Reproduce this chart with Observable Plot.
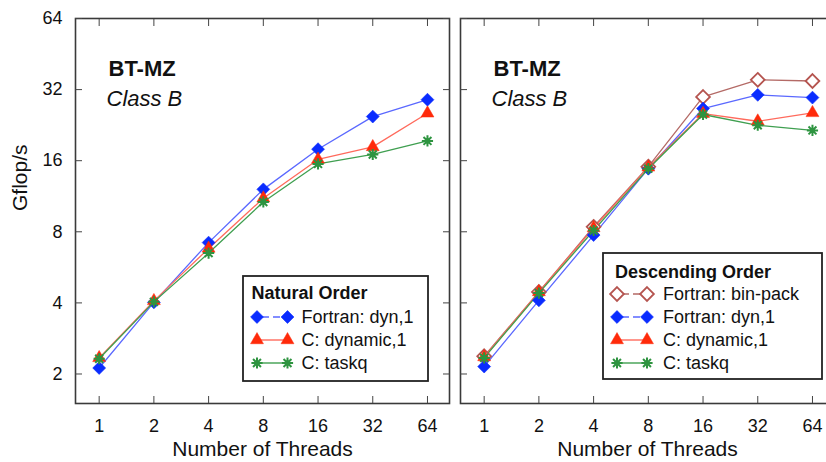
<!DOCTYPE html>
<html><head><meta charset="utf-8">
<script src="https://cdn.jsdelivr.net/npm/d3@7"></script>
<script src="https://cdn.jsdelivr.net/npm/@observablehq/plot@0.6"></script>
<style>
body{margin:0;background:#fff;}
#wrap{position:relative;width:826px;height:462px;overflow:hidden;background:#fff;font-family:"Liberation Sans",Arial,Helvetica,sans-serif;}
#left{position:absolute;left:0;top:0;width:455px;height:462px;}
#right{position:absolute;left:455px;top:0;width:379px;height:462px;}
#legend{position:absolute;left:0;top:0;pointer-events:none;}
</style></head><body>
<div id="wrap"><div id="left"></div><div id="right"></div><svg id="legend" width="826" height="462"></svg></div>
<script>
// ---- data ----
const threads = [1, 2, 4, 8, 16, 32, 64];
const yTicks = [2, 4, 8, 16, 32, 64];

// Natural order panel
const natFortranDyn = [2.12, 4.02, 7.2, 12.1, 17.9, 24.6, 29.0];
const natCDynamic   = [2.34, 4.08, 6.8, 11.1, 16.2, 18.3, 25.4];
const natCTaskq     = [2.32, 4.04, 6.5, 10.7, 15.5, 17.0, 19.4];

// Descending order panel
const descFortranBinpack = [2.38, 4.45, 8.4, 15.1, 29.8, 35.2, 34.8];
const descFortranDyn     = [2.15, 4.1, 7.75, 14.8, 26.6, 30.4, 29.6];
const descCDynamic       = [2.36, 4.45, 8.3, 15.0, 25.3, 23.5, 25.5];
const descCTaskq         = [2.34, 4.4, 8.1, 14.8, 25.1, 22.6, 21.5];

const leftLegendTitle = "Natural Order";
const rightLegendTitle = "Descending Order";
const panelTitle = "BT-MZ";
const panelSubtitle = "Class B";
const xLabel = "Number of Threads";
const yLabel = "Gflop/s";

// ---- styles ----
const FONT = '"Liberation Sans", Arial, Helvetica, sans-serif';
const star8 = {draw(ctx, size) {
  const r = Math.sqrt(size / Math.PI);
  for (let i = 0; i < 4; i++) {
    const a = i * Math.PI / 4, dx = r * Math.cos(a), dy = r * Math.sin(a);
    ctx.moveTo(-dx, -dy); ctx.lineTo(dx, dy);
  }
}};
const STY = {
  binpack: {line: "#b46a66", symbol: "diamond2", r: 6.2, fill: "#fff", stroke: "#b5544f", sw: 1.8, dash: true},
  fdyn:    {line: "#5a68ff", symbol: "diamond2", r: 5.8, fill: "#0a2cff", stroke: "#0a2cff", sw: 0.6, dash: true},
  cdyn:    {line: "#ff6a5c", symbol: "triangle", r: 4.8, fill: "#ff2a0a", stroke: "#ff2a0a", sw: 0.5, dash: false},
  taskq:   {line: "#3f9f50", symbol: star8, r: 5.6, fill: "none", stroke: "#2e9440", sw: 2, dash: false, core: true}
};

function rows(vals) { return threads.map((t, i) => ({t, v: vals[i]})); }

function makePanel(series, showY, opts) {
  const marks = [
    Plot.frame({stroke: "#3a3a3a", strokeWidth: 1.6}),
    Plot.axisX(threads, {anchor: "bottom", tickSize: -7, tickPadding: 22.5, tickFormat: d => String(d), fontSize: 18, label: null, stroke: "#444", fill: "#111"}),
    Plot.axisX(threads, {anchor: "top", tickSize: -7, fill: "none", label: null, stroke: "#444"}),
    Plot.axisY(yTicks, {anchor: "left", tickSize: -7, tickPadding: 20, tickFormat: d => String(d), fontSize: 18, fill: showY ? "#111" : "none", label: null, stroke: "#444"}),
    Plot.axisY(yTicks, {anchor: "right", tickSize: -7, fill: "none", label: null, stroke: "#444"}),
    Plot.text([xLabel], {frameAnchor: "bottom", dy: 52, fontSize: 21, fill: "#111"}),
    Plot.text([panelTitle], {frameAnchor: "top-left", dx: 33, dy: 42, textAnchor: "start", fontSize: 22, fontWeight: "bold", fill: "#111"}),
    Plot.text([panelSubtitle], {frameAnchor: "top-left", dx: 31, dy: 72, textAnchor: "start", fontSize: 22, fontStyle: "italic", fill: "#111"})
  ];
  if (showY) marks.push(Plot.text([yLabel], {frameAnchor: "left", dx: -55, rotate: -90, fontSize: 21, fill: "#111"}));
  for (const s of series) {
    marks.push(Plot.line(rows(s.vals), {x: "t", y: "v", stroke: s.st.line, strokeWidth: 1.3}));
  }
  for (const s of series) {
    const st = s.st;
    marks.push(Plot.dot(rows(s.vals), {x: "t", y: "v", symbol: st.symbol, r: st.r, fill: st.fill, stroke: st.stroke, strokeWidth: st.sw}));
    if (st.core) marks.push(Plot.dot(rows(s.vals), {x: "t", y: "v", r: 2.6, fill: st.stroke, stroke: "none"}));
  }
  return Plot.plot({
    width: opts.width, height: 462,
    marginTop: 18, marginBottom: 59, marginLeft: opts.ml, marginRight: opts.mr,
    style: {background: "transparent", fontFamily: FONT, color: "#111", maxWidth: "none", overflow: "visible"},
    x: {type: "log", base: 2, domain: [0.741, 84.6]},
    y: {type: "log", base: 2, domain: [1.5, 64]},
    marks
  });
}

const leftSeries = [
  {name: "Fortran: dyn,1", vals: natFortranDyn, st: STY.fdyn},
  {name: "C: dynamic,1", vals: natCDynamic, st: STY.cdyn},
  {name: "C: taskq", vals: natCTaskq, st: STY.taskq}
];
const rightSeries = [
  {name: "Fortran: bin-pack", vals: descFortranBinpack, st: STY.binpack},
  {name: "Fortran: dyn,1", vals: descFortranDyn, st: STY.fdyn},
  {name: "C: dynamic,1", vals: descCDynamic, st: STY.cdyn},
  {name: "C: taskq", vals: descCTaskq, st: STY.taskq}
];

document.getElementById("left").append(makePanel(leftSeries, true, {width: 455, ml: 75, mr: 6}));
document.getElementById("right").append(makePanel(rightSeries, false, {width: 379, ml: 5, mr: 0}));

// ---- legends ----
const svg = d3.select("#legend");
function legend(box, title, series, titleX, titleY, ys, x1, x2, xt) {
  const g = svg.append("g").attr("font-family", FONT).attr("font-size", 18).attr("fill", "#111");
  g.append("rect").attr("x", box[0]).attr("y", box[1]).attr("width", box[2]).attr("height", box[3])
    .attr("fill", "#fff").attr("stroke", "#222").attr("stroke-width", 1.8);
  g.append("text").attr("x", titleX).attr("y", titleY).attr("dy", "0.35em").attr("font-weight", "bold").text(title);
  series.forEach((s, i) => {
    const y = ys[i], st = s.st;
    g.append("line").attr("x1", x1).attr("x2", x2).attr("y1", y).attr("y2", y)
      .attr("stroke", st.line).attr("stroke-width", 1.4).attr("stroke-dasharray", st.dash ? "7,4" : null)
      .attr("stroke-dashoffset", st.dash ? -5 : null);
    const type = typeof st.symbol === "string" ? (st.symbol === "diamond2" ? d3.symbolDiamond2 : d3.symbolTriangle) : st.symbol;
    const path = d3.symbol().type(type).size(Math.PI * st.r * st.r)();
    for (const x of [x1, x2]) {
      g.append("path").attr("d", path).attr("transform", `translate(${x},${y})`)
        .attr("fill", st.fill).attr("stroke", st.stroke).attr("stroke-width", st.sw);
      if (st.core) g.append("circle").attr("cx", x).attr("cy", y).attr("r", 2.6).attr("fill", st.stroke);
    }
    g.append("text").attr("x", xt).attr("y", y).attr("dy", "0.35em").text(s.name);
  });
}
legend([243, 276, 185, 105], leftLegendTitle, leftSeries, 251.5, 293, [317, 340, 363], 257, 287.5, 301.5);
legend([603, 253, 219, 126], rightLegendTitle, rightSeries, 615, 272, [294, 317, 340, 363], 617, 647, 663);
</script>
</body></html>
